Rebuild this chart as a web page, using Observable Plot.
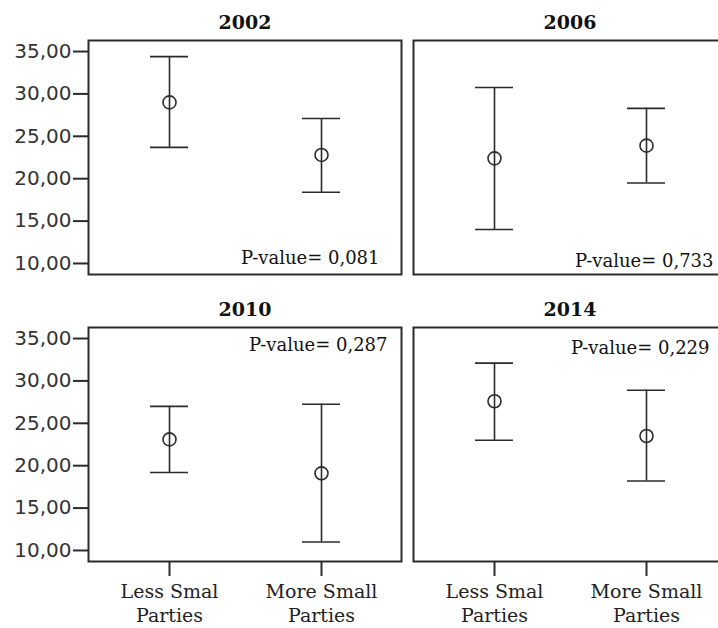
<!DOCTYPE html>
<html>
<head>
<meta charset="utf-8">
<script src="https://cdn.jsdelivr.net/npm/d3@7"></script>
<script src="https://cdn.jsdelivr.net/npm/@observablehq/plot@0.6"></script>
<style>
  html, body { margin: 0; padding: 0; background: #fff; width: 718px; height: 628px; overflow: hidden; }
</style>
</head>
<body>
<div id="chart"></div>
<script>
// ---- data ----
const years = ["2002", "2006", "2010", "2014"];
const categories = ["Less Smal\nParties", "More Small\nParties"];
// per year: [Less, More]
const means = [[29.0, 22.8], [22.4, 23.9], [23.1, 19.1], [27.6, 23.5]];
const lowers = [[23.7, 18.4], [14.0, 19.5], [19.2, 11.0], [23.0, 18.2]];
const uppers = [[34.4, 27.1], [30.75, 28.3], [27.0, 27.25], [32.1, 28.9]];
const pValues = ["0,081", "0,733", "0,287", "0,229"];
const pPlacement = ["bottom", "bottom", "top", "top"];
const yTicks = [10, 15, 20, 25, 30, 35];

const rows = [];
years.forEach((y, i) => categories.forEach((c, j) => rows.push({
  year: y, cat: c, mean: means[i][j], lo: lowers[i][j], hi: uppers[i][j],
  col: i % 2, row: Math.floor(i / 2)
})));
const panels = years.map((y, i) => ({
  year: y, p: "P-value= " + pValues[i], place: pPlacement[i], col: i % 2, row: Math.floor(i / 2)
}));

const ink = "#2b2b2b";
const serif = "'DejaVu Serif', serif";
// small per-panel nudges of the P-value label (as in the reference)
const pOffsets = [[-22, -16], [-13, -13], [-14, 18], [-17, 21]];

const chart = Plot.plot({
  width: 728,
  height: 628,
  marginLeft: 88,
  marginRight: 2,
  marginTop: 39,
  marginBottom: 67,
  style: { fontFamily: "'DejaVu Sans', sans-serif", fontSize: "20px", color: ink, background: "#fff", maxWidth: "none", overflow: "visible" },
  fx: { axis: null, domain: [0, 1], paddingInner: 0.037, paddingOuter: 0 },
  fy: { axis: null, domain: [0, 1], paddingInner: 0.185, paddingOuter: 0 },
  x: { type: "band", domain: categories, paddingInner: 0.752, paddingOuter: 0.4, label: null },
  y: { domain: [8.7, 36.3], label: null },
  marks: [
    Plot.frame({ stroke: ink, strokeWidth: 2 }),
    Plot.axisY({
      ticks: yTicks, tickSize: 15, tickPadding: 2, strokeWidth: 2,
      tickFormat: d => d.toFixed(2).replace(".", ","),
      fontSize: 20, fill: "#333", stroke: ink
    }),
    Plot.axisX({
      tickSize: 15, tickPadding: 5, strokeWidth: 2, stroke: ink,
      fontFamily: serif, fontSize: 19, lineHeight: 1.25, fill: "#222"
    }),
    Plot.ruleX(rows, { x: "cat", y1: "lo", y2: "hi", fx: "col", fy: "row", stroke: ink, strokeWidth: 1.6 }),
    Plot.tickY(rows, { x: "cat", y: "lo", fx: "col", fy: "row", stroke: ink, strokeWidth: 1.6 }),
    Plot.tickY(rows, { x: "cat", y: "hi", fx: "col", fy: "row", stroke: ink, strokeWidth: 1.6 }),
    Plot.dot(rows, { x: "cat", y: "mean", fx: "col", fy: "row", r: 6.5, stroke: ink, strokeWidth: 1.6, fill: "none" }),
    Plot.text(panels, {
      fx: "col", fy: "row", text: "year", frameAnchor: "top", lineAnchor: "middle", dy: -18,
      fontFamily: serif, fontWeight: "bold", fontSize: 19, fill: "#111"
    }),
    ...panels.map((d, i) => Plot.text([d], {
      fx: "col", fy: "row", text: "p",
      frameAnchor: d.place === "bottom" ? "bottom-right" : "top-right", lineAnchor: "middle",
      textAnchor: "end", dx: pOffsets[i][0], dy: pOffsets[i][1],
      fontFamily: serif, fontSize: 18, fill: "#111"
    }))
  ]
});
document.getElementById("chart").appendChild(chart);
</script>
</body>
</html>
